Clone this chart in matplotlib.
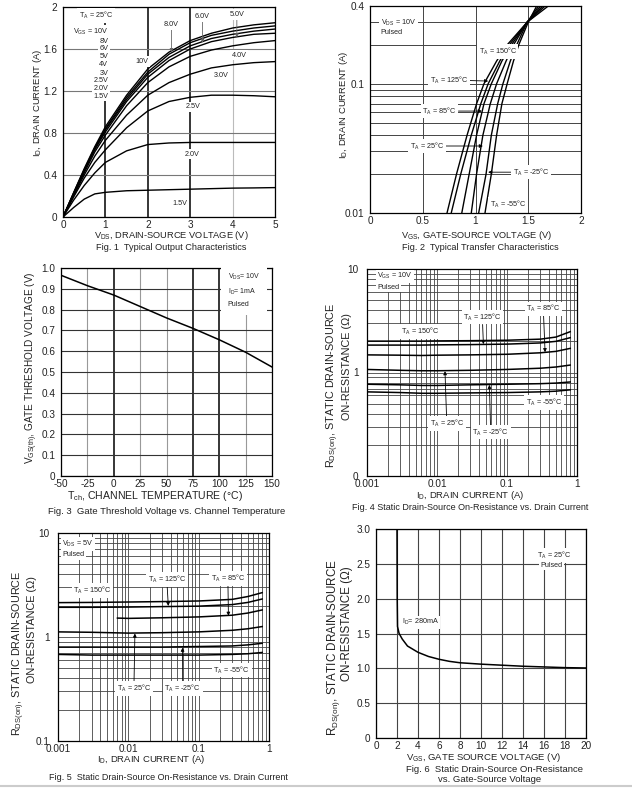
import matplotlib
matplotlib.use('Agg')
import matplotlib.pyplot as plt
from matplotlib.lines import Line2D
from matplotlib.ticker import NullFormatter

plt.rcParams['font.family'] = ['Liberation Sans', 'DejaVu Sans']
plt.rcParams['mathtext.default'] = 'regular'
plt.rcParams['axes.unicode_minus'] = False

# ---- Fig. 1 : output characteristics (I_D vs V_DS)
vds = [0, 0.25, 0.5, 0.75, 1, 1.5, 2, 2.5, 3, 3.5, 4, 4.5, 5]
id_vgs = {
    '10V':  [0, 0.23, 0.46, 0.67, 0.86, 1.16, 1.41, 1.57, 1.68, 1.75, 1.80, 1.83, 1.85],
    '8V':   [0, 0.23, 0.45, 0.66, 0.84, 1.14, 1.38, 1.55, 1.66, 1.73, 1.77, 1.80, 1.82],
    '6V':   [0, 0.22, 0.44, 0.65, 0.83, 1.12, 1.36, 1.52, 1.63, 1.70, 1.74, 1.77, 1.79],
    '5V':   [0, 0.22, 0.44, 0.64, 0.81, 1.10, 1.33, 1.49, 1.60, 1.67, 1.71, 1.74, 1.75],
    '4V':   [0, 0.21, 0.42, 0.62, 0.78, 1.06, 1.28, 1.43, 1.53, 1.59, 1.63, 1.66, 1.68],
    '3V':   [0, 0.20, 0.40, 0.58, 0.73, 0.97, 1.16, 1.28, 1.36, 1.42, 1.45, 1.47, 1.48],
    '2.5V': [0, 0.19, 0.37, 0.52, 0.64, 0.85, 1.01, 1.10, 1.14, 1.16, 1.16, 1.155, 1.145],
    '2.0V': [0, 0.16, 0.30, 0.42, 0.52, 0.63, 0.69, 0.705, 0.71, 0.71, 0.71, 0.71, 0.71],
    '1.5V': [0, 0.09, 0.17, 0.22, 0.235, 0.25, 0.255, 0.26, 0.265, 0.27, 0.275, 0.277, 0.28],
}

# ---- Fig. 2 : transfer characteristics (V_GS at given I_D)
id_levels = [0.01, 0.02, 0.04, 0.07, 0.1, 0.15, 0.2, 0.3, 0.4]
vgs_temp = {
    '150': [0.73, 0.82, 0.92, 1.01, 1.08, 1.20, 1.30, 1.49, 1.69],
    '125': [0.77, 0.86, 0.96, 1.05, 1.12, 1.23, 1.32, 1.49, 1.66],
    '85':  [0.87, 0.94, 1.01, 1.08, 1.15, 1.25, 1.34, 1.49, 1.64],
    '25':  [0.96, 1.01, 1.07, 1.14, 1.20, 1.29, 1.36, 1.49, 1.62],
    '-25': [1.03, 1.10, 1.15, 1.21, 1.26, 1.33, 1.39, 1.49, 1.60],
    '-55': [1.09, 1.15, 1.20, 1.25, 1.30, 1.36, 1.41, 1.50, 1.58],
}

# ---- Fig. 3 : threshold voltage vs temperature
tch = [-50, -25, 0, 25, 50, 75, 100, 125, 150]
vth = [0.965, 0.915, 0.87, 0.815, 0.76, 0.71, 0.655, 0.595, 0.524]

# ---- Fig. 4 : Rds(on) vs I_D, VGS = 10V
id4 = [0.001, 0.003, 0.006, 0.01, 0.03, 0.1, 0.3, 0.5, 0.8]
rds4 = {
    '150': [2.01, 2.01, 2.01, 2.02, 2.03, 2.05, 2.10, 2.20, 2.48],
    '125': [1.84, 1.84, 1.84, 1.85, 1.86, 1.88, 1.93, 2.00, 2.17],
    '85':  [1.48, 1.47, 1.46, 1.47, 1.48, 1.50, 1.55, 1.60, 1.71],
    '25':  [1.07, 1.05, 1.04, 1.04, 1.05, 1.07, 1.10, 1.13, 1.18],
    '-25': [0.77, 0.76, 0.75, 0.75, 0.76, 0.77, 0.78, 0.79, 0.81],
    '-55': [0.65, 0.64, 0.63, 0.63, 0.635, 0.64, 0.65, 0.66, 0.68],
}

# ---- Fig. 5 : Rds(on) vs I_D, VGS = 5V
id5 = [0.001, 0.003, 0.01, 0.03, 0.1, 0.3, 0.5, 0.8]
id5_85 = [0.007, 0.01, 0.03, 0.1, 0.3, 0.5, 0.8]
rds5 = {
    '150': [2.14, 2.15, 2.17, 2.19, 2.22, 2.30, 2.45, 2.67],
    '125': [1.93, 1.93, 1.94, 1.96, 1.98, 2.05, 2.15, 2.32],
    '25':  [1.12, 1.11, 1.09, 1.10, 1.12, 1.16, 1.20, 1.26],
    '-25': [0.80, 0.80, 0.80, 0.80, 0.81, 0.82, 0.84, 0.87],
    '-55': [0.68, 0.67, 0.67, 0.67, 0.67, 0.68, 0.69, 0.71],
}
rds5_85 = [1.52, 1.51, 1.53, 1.56, 1.62, 1.70, 1.82]

# ---- Fig. 6 : Rds(on) vs VGS
vgs6 = [2.0, 2.02, 2.05, 2.2, 2.5, 3, 4, 5, 6, 7, 8, 10, 12, 14, 16, 18, 20]
rds6 = [3.0, 2.0, 1.6, 1.5, 1.42, 1.32, 1.23, 1.17, 1.13, 1.10, 1.08, 1.06, 1.045, 1.03, 1.02, 1.01, 1.005]

W, H = 632, 789
fig = plt.figure(figsize=(W / 100, H / 100), dpi=100)


def rect(l, r, t, b):
    return [l / W, 1 - b / H, (r - l) / W, (b - t) / H]


def ftext(x, y, s, **kw):
    kw.setdefault('ha', 'center')
    kw.setdefault('va', 'center')
    kw.setdefault('color', '#222')
    fig.text(x / W, 1 - y / H, s, **kw)


def style(ax):
    for s in ax.spines.values():
        s.set_color('k')
        s.set_linewidth(0.9)
    ax.tick_params(which='both', length=0, labelsize=7.2, colors='#222')
    ax.tick_params(axis='x', pad=2.5)
    ax.tick_params(axis='y', pad=4)
    ax.set_axisbelow(True)


box = dict(facecolor='white', edgecolor='none', pad=1.2)
arr = dict(arrowstyle='-|>', lw=0.6, color='k', mutation_scale=5, shrinkA=0, shrinkB=0)


def note(ax, s, xy, xytext=None, fs=5.2, **kw):
    if xytext is None:
        ax.text(xy[0], xy[1], s, fontsize=fs, ha=kw.get('ha', 'center'), va='center',
                bbox=box, color='#222', zorder=5)
    else:
        ax.annotate(s, xy=xy, xytext=xytext, fontsize=fs, ha=kw.get('ha', 'center'),
                    va='center', bbox=box, color='#222', zorder=5,
                    arrowprops=dict(arr, color=kw.get('acolor', 'k')))


# ================= Fig. 1
ax1 = fig.add_axes(rect(63, 275, 7, 217))
style(ax1)
for k, v in id_vgs.items():
    ax1.plot(vds, v, color='k', lw=1.0)
ax1.set_xlim(0, 5)
ax1.set_ylim(0, 2)
ax1.set_xticks([0, 1, 2, 3, 4, 5])
ax1.set_yticks([0, 0.4, 0.8, 1.2, 1.6, 2])
ax1.set_yticklabels(['0', '0.4', '0.8', '1.2', '1.6', '2'])
ax1.grid(True, color='#777', lw=0.8)
for i, g in enumerate(ax1.get_xgridlines()):
    if i in (1, 2, 3):
        g.set_color('k'); g.set_linewidth(1.1)
    elif i == 4:
        g.set_color('#bbb')
note(ax1, r'T$_A$ = 25°C', (0.78, 1.92))
note(ax1, r'V$_{GS}$ = 10V', (1.07, 1.76), ha='right')
for lab, yy in zip(['8V', '6V', '5V', '4V', '3V', '2.5V', '2.0V', '1.5V'],
                   [1.67, 1.60, 1.53, 1.45, 1.37, 1.30, 1.22, 1.15]):
    note(ax1, lab, (1.07, yy), ha='right')
note(ax1, '8.0V', (2.56, 1.57), (2.56, 1.83), acolor='#666')
note(ax1, '6.0V', (3.29, 1.66), (3.29, 1.91), acolor='#666')
note(ax1, '5.0V', (4.10, 1.71), (4.10, 1.93), acolor='#666')
note(ax1, '10V', (1.86, 1.48))
note(ax1, '4.0V', (4.15, 1.54))
note(ax1, '3.0V', (3.73, 1.35))
note(ax1, '2.5V', (3.06, 1.05))
note(ax1, '2.0V', (3.04, 0.60))
note(ax1, '1.5V', (2.75, 0.13))
ftext(38, 103, r'I$_D$, DRAIN CURRENT (A)', rotation=90, fontsize=6.8)
ftext(171, 236, r'V$_{DS}$, DRAIN-SOURCE VOLTAGE (V)', fontsize=6.7)
ftext(171, 248, 'Fig. 1  Typical Output Characteristics', fontsize=6.6)

# ================= Fig. 2
ax2 = fig.add_axes(rect(370, 581, 6, 213))
style(ax2)
for k, v in vgs_temp.items():
    ax2.plot(v, id_levels, color='k', lw=1.0)
ax2.set_yscale('log')
ax2.set_xlim(0, 2)
ax2.set_ylim(0.01, 0.4)
ax2.set_xticks([0, 0.5, 1, 1.5, 2])
ax2.set_xticklabels(['0', '0.5', '1', '1.5', '2'])
ax2.set_yticks([0.01, 0.1, 0.4])
ax2.set_yticklabels(['0.01', '0.1', '0.4'])
ax2.set_yticks([0.02, 0.03, 0.04, 0.05, 0.06, 0.07, 0.08, 0.09, 0.2, 0.3], minor=True)
ax2.yaxis.set_minor_formatter(NullFormatter())
ax2.grid(True, which='both', color='#444', lw=0.7)
note(ax2, 'V$_{DS}$ = 10V', (0.1, 0.295), ha='left')
note(ax2, 'Pulsed', (0.1, 0.25), ha='left')
note(ax2, 'T$_A$ = 150°C', (1.21, 0.177))
note(ax2, 'T$_A$ = 125°C', (1.12, 0.105), (0.75, 0.107))
note(ax2, 'T$_A$ = 85°C', (1.06, 0.0615), (0.66, 0.0615))
note(ax2, 'T$_A$ = 25°C', (1.07, 0.033), (0.54, 0.033))
note(ax2, 'T$_A$ = -25°C', (1.12, 0.0207), (1.53, 0.0207))
note(ax2, 'T$_A$ = -55°C', (1.31, 0.0117))
ftext(343, 105, r'I$_D$, DRAIN CURRENT (A)', rotation=90, fontsize=6.8)
ftext(477, 236, r'V$_{GS}$, GATE-SOURCE VOLTAGE (V)', fontsize=6.7)
ftext(480, 248, 'Fig. 2  Typical Transfer Characteristics', fontsize=6.6)

# ================= Fig. 3
ax3 = fig.add_axes(rect(61, 272, 268, 476))
style(ax3)
ax3.plot(tch, vth, color='k', lw=1.1)
ax3.set_xlim(-50, 150)
ax3.set_ylim(0, 1.0)
ax3.set_xticks(tch)
ax3.set_yticks([i / 10 for i in range(11)])
ax3.set_yticklabels(['0'] + ['%.1f' % (i / 10) for i in range(1, 11)])
ax3.grid(True, color='#333', lw=0.8)
for i, g in enumerate(ax3.get_xgridlines()):
    if tch[i] in (0, 75, 100):
        g.set_color('k'); g.set_linewidth(1.1)
    else:
        g.set_color('#999')
ax3.text(108, 0.895, 'V$_{DS}$= 10V\nI$_D$= 1mA\nPulsed', fontsize=5.0, ha='left', va='center',
         linespacing=1.7, color='#222', bbox=dict(facecolor='white', edgecolor='none', pad=5))
ftext(32, 368, r'V$_{GS(th)}$, GATE THRESHOLD VOLTAGE (V)', rotation=90, fontsize=7.2)
ftext(155, 496, r'T$_{ch}$, CHANNEL TEMPERATURE (°C)', fontsize=7.6)
ftext(167, 511, 'Fig. 3  Gate Threshold Voltage vs. Channel Temperature', fontsize=6.8)


# ================= Fig. 4 / Fig. 5 shared styling
def log_axes(ax, ylabels):
    style(ax)
    ax.tick_params(axis='y', pad=6)
    ax.set_xscale('log')
    ax.set_yscale('log')
    ax.set_xlim(0.001, 1)
    ax.set_ylim(0.1, 10)
    ax.set_xticks([0.001, 0.01, 0.1, 1])
    ax.set_xticklabels(['0.001', '0.01', '0.1', '1'])
    ax.set_yticks([0.1, 1, 10])
    ax.set_yticklabels(ylabels)
    ax.xaxis.set_minor_formatter(NullFormatter())
    ax.yaxis.set_minor_formatter(NullFormatter())
    ax.grid(True, which='both', color='#444', lw=0.6)


ax4 = fig.add_axes(rect(367, 577, 269, 476))
log_axes(ax4, ['0', '1', '10'])
for k, v in rds4.items():
    ax4.plot(id4, v, color='k', lw=1.1)
note(ax4, 'V$_{GS}$ = 10V', (0.0014, 8.5), ha='left')
note(ax4, 'Pulsed', (0.0014, 6.7), ha='left')
note(ax4, 'T$_A$ = 150°C', (0.0057, 2.49))
note(ax4, 'T$_A$ = 125°C', (0.046, 1.88), (0.0444, 3.42))
note(ax4, 'T$_A$ = 85°C', (0.35, 1.57), (0.33, 4.12))
note(ax4, 'T$_A$ = 25°C', (0.013, 1.03), (0.0138, 0.32))
note(ax4, 'T$_A$ = -25°C', (0.056, 0.76), (0.0585, 0.265))
note(ax4, 'T$_A$ = -55°C', (0.338, 0.516))
ftext(333, 385, r'R$_{DS(on)}$, STATIC DRAIN-SOURCE', rotation=90, fontsize=7.8)
ftext(347, 367, 'ON-RESISTANCE (Ω)', rotation=90, fontsize=7.8)
ftext(470, 495, r'I$_D$, DRAIN CURRENT (A)', fontsize=6.8)
ftext(470, 508, 'Fig. 4 Static Drain-Source On-Resistance vs. Drain Current', fontsize=6.5)

ax5 = fig.add_axes(rect(58, 269, 533, 741))
log_axes(ax5, ['0.1', '1', '10'])
for k, v in rds5.items():
    ax5.plot(id5, v, color='k', lw=1.1)
ax5.plot(id5_85, rds5_85, color='k', lw=1.1)
note(ax5, 'V$_{DS}$ = 5V', (0.00115, 7.8), ha='left')
note(ax5, 'Pulsed', (0.00115, 6.2), ha='left')
note(ax5, 'T$_A$ = 150°C', (0.0031, 2.79))
note(ax5, 'T$_A$ = 125°C', (0.037, 1.99), (0.0352, 3.59))
note(ax5, 'T$_A$ = 85°C', (0.265, 1.60), (0.26, 3.67))
note(ax5, 'T$_A$ = 25°C', (0.0124, 1.08), (0.012, 0.32))
note(ax5, 'T$_A$ = -25°C', (0.059, 0.79), (0.0593, 0.32))
note(ax5, 'T$_A$ = -55°C', (0.295, 0.48))
ftext(19, 653, r'R$_{DS(on)}$, STATIC DRAIN-SOURCE', rotation=90, fontsize=7.8)
ftext(32, 630, 'ON-RESISTANCE (Ω)', rotation=90, fontsize=7.8)
ftext(151, 760, r'I$_D$, DRAIN CURRENT (A)', fontsize=6.8)
ftext(168, 777, 'Fig. 5  Static Drain-Source On-Resistance vs. Drain Current', fontsize=6.5)

# ================= Fig. 6
ax6 = fig.add_axes(rect(376, 586, 529, 738))
style(ax6)
ax6.plot(vgs6, rds6, color='k', lw=1.1)
ax6.set_xlim(0, 20)
ax6.set_ylim(0, 3.0)
ax6.set_xticks(range(0, 21, 2))
ax6.set_yticks([0, 0.5, 1.0, 1.5, 2.0, 2.5, 3.0])
ax6.set_yticklabels(['0', '0.5', '1.0', '1.5', '2.0', '2.5', '3.0'])
ax6.grid(True, color='#444', lw=0.8)
note(ax6, 'T$_A$ = 25°C', (17.0, 2.62))
note(ax6, 'Pulsed', (16.7, 2.48))
note(ax6, 'I$_D$= 280mA', (4.2, 1.66))
ftext(333, 648, r'R$_{DS(on)}$, STATIC DRAIN-SOURCE', rotation=90, fontsize=8.4)
ftext(347, 624, 'ON-RESISTANCE (Ω)', rotation=90, fontsize=8.4)
ftext(483, 757, r'V$_{GS}$, GATE SOURCE VOLTAGE (V)', fontsize=6.8)
ftext(495, 769, 'Fig. 6  Static Drain-Source On-Resistance', fontsize=6.8)
ftext(490, 779, 'vs. Gate-Source Voltage', fontsize=6.8)

fig.add_artist(Line2D([0, 1], [1 - 786 / H, 1 - 786 / H], color='#ccc', lw=1.5,
                      transform=fig.transFigure))

fig.savefig('out.png', dpi=100)
